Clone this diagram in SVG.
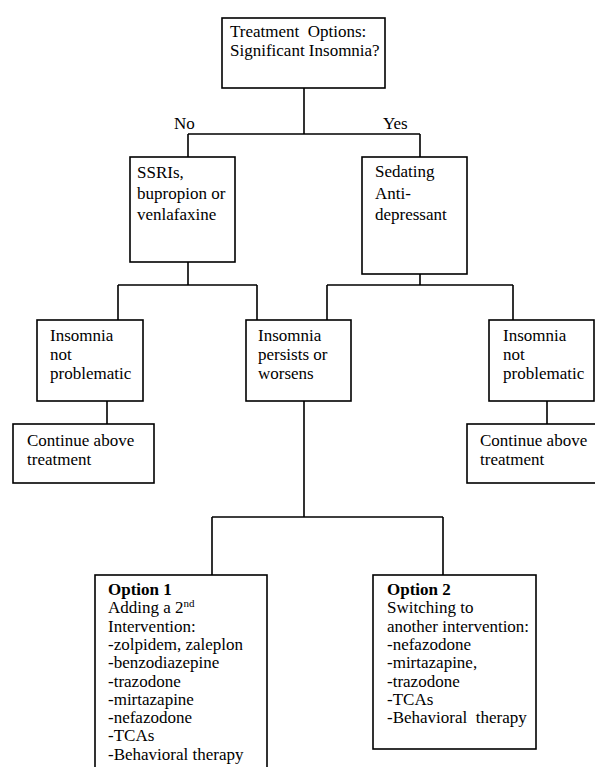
<svg xmlns="http://www.w3.org/2000/svg" width="595" height="767" viewBox="0 0 595 767">
<style>
.box{fill:#fff;stroke:#000;stroke-width:1.6}
.ln{fill:none;stroke:#000;stroke-width:1.6}
text{font-family:"Liberation Serif","Times New Roman",serif;font-size:17px;fill:#000}
.b{font-weight:bold}
</style>
<rect width="595" height="767" fill="#fff"/>
<g id="connectors">
<path class="ln" d="M304,88V134M188,134H420M188,134V157M420,134V157"/>
<path class="ln" d="M188,262V285M118,285H257M118,285V320M257,285V320"/>
<path class="ln" d="M420,274V285M327,285H513M327,285V320M513,285V320"/>
<path class="ln" d="M107,401V424M547,401V424"/>
<path class="ln" d="M304,401V517M212,517H443M212,517V575M443,517V575"/>
</g>
<g id="n_top"><rect class="box" x="222" y="18" width="163" height="70"/>
<text x="230" y="37" xml:space="preserve">Treatment  Options:</text><text x="230" y="55.5">Significant Insomnia?</text></g>
<g id="l_no"><text x="174" y="129">No</text></g>
<g id="l_yes"><text x="383" y="129">Yes</text></g>
<g id="n_ssri"><rect class="box" x="130" y="157" width="105" height="105"/>
<text x="137" y="178">SSRIs,</text><text x="137" y="199">bupropion or</text><text x="137" y="220">venlafaxine</text></g>
<g id="n_sed"><rect class="box" x="362" y="157" width="105" height="117"/>
<text x="375" y="177">Sedating</text><text x="375" y="198.5">Anti-</text><text x="375" y="220">depressant</text></g>
<g id="n_np1"><rect class="box" x="37" y="320" width="106" height="81"/>
<text x="50" y="341">Insomnia</text><text x="50" y="360">not</text><text x="50" y="379">problematic</text></g>
<g id="n_pers"><rect class="box" x="246" y="320" width="105" height="81"/>
<text x="258" y="341">Insomnia</text><text x="258" y="360">persists or</text><text x="258" y="379">worsens</text></g>
<g id="n_np2"><rect class="box" x="489" y="320" width="105" height="81"/>
<text x="503" y="341">Insomnia</text><text x="503" y="360">not</text><text x="503" y="379">problematic</text></g>
<g id="n_c1"><rect class="box" x="13" y="424" width="141" height="59"/>
<text x="27" y="446">Continue above</text><text x="27" y="465">treatment</text></g>
<g id="n_c2"><rect class="box" x="467" y="424" width="140" height="59"/>
<text x="480" y="446">Continue above</text><text x="480" y="465">treatment</text></g>
<g id="n_opt1"><rect class="box" x="95" y="575" width="172" height="200"/>
<text x="108" y="595" class="b">Option 1</text>
<text x="108" y="613.3">Adding a 2<tspan font-size="11" dy="-6">nd</tspan></text>
<text x="108" y="631.6">Intervention:</text>
<text x="108" y="649.9">-zolpidem, zaleplon</text>
<text x="108" y="668.2">-benzodiazepine</text>
<text x="108" y="686.5">-trazodone</text>
<text x="108" y="704.8">-mirtazapine</text>
<text x="108" y="723.1">-nefazodone</text>
<text x="108" y="741.4">-TCAs</text>
<text x="108" y="759.7">-Behavioral therapy</text></g>
<g id="n_opt2"><rect class="box" x="373" y="575" width="163" height="174"/>
<text x="387" y="595" class="b">Option 2</text>
<text x="387" y="613.3">Switching to</text>
<text x="387" y="631.6">another intervention:</text>
<text x="387" y="649.9">-nefazodone</text>
<text x="387" y="668.2">-mirtazapine,</text>
<text x="387" y="686.5">-trazodone</text>
<text x="387" y="704.8">-TCAs</text>
<text x="387" y="723.1" xml:space="preserve">-Behavioral  therapy</text></g>
</svg>
